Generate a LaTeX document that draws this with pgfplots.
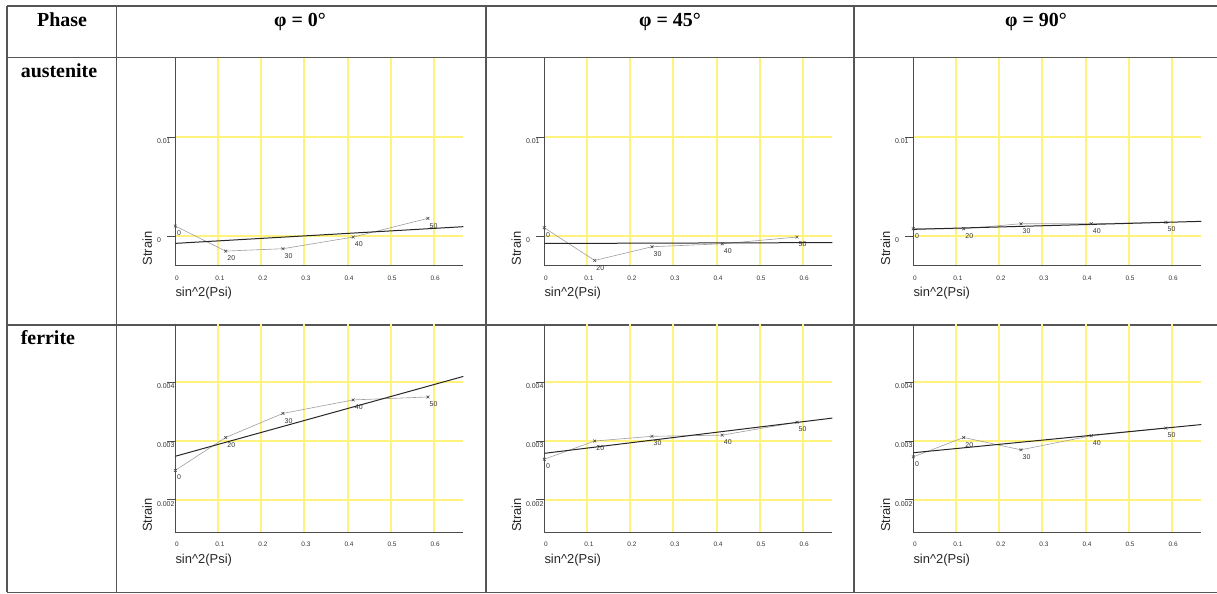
\documentclass[border=0pt]{standalone}
\usepackage{fontspec}
\setmainfont{Liberation Serif}
\setsansfont{Liberation Sans}
\usepackage{pgfplots}
\pgfplotsset{compat=1.18}
\definecolor{gridyellow}{RGB}{255,242,125}
\definecolor{tableline}{RGB}{85,85,85}

\pgfplotsset{
  panel/.style={
    scale only axis, width=288bp, anchor=south west,
    xmin=0, xmax=0.669,
    scaled ticks=false,
    axis x line=bottom, axis y line=left,
    axis line style={-, draw=black!70, line width=0.9bp},
    xtick={0.1,0.2,0.3,0.4,0.5,0.6},
    xticklabels={0.1,0.2,0.3,0.4,0.5,0.6},
    extra x ticks={0}, extra x tick labels={0},
    extra x tick style={grid=none, xtick style={draw=none}},
    grid=major, major grid style={draw=gridyellow, line width=2bp},
    tick align=outside, major tick length=8bp,
    xtick style={draw=none},
    ytick style={draw=black!70, line width=0.8bp},
    xticklabel style={font=\sffamily\fontsize{6.5}{6.5}\selectfont, text=black!80, anchor=north, inner sep=0pt, yshift=-2bp, xshift=1.5bp},
    yticklabel style={font=\sffamily\fontsize{7}{7}\selectfont, text=black!80, anchor=north west, inner sep=0pt, xshift=-10.5bp, yshift=-1.5bp},
    xlabel={sin\textasciicircum 2(Psi)},
    ylabel={Strain},
    label style={font=\sffamily\fontsize{13}{13}\selectfont, text=black!85},
    xlabel style={at={(axis description cs:0,-0.134)}, anchor=west, inner sep=0pt},
    ylabel style={at={(axis description cs:-0.097,0)}, anchor=west, inner sep=0pt},
  },
  austrow/.style={panel, ymin=-0.003, ymax=0.018, height=207.4bp,
    ytick={0,0.01}, yticklabels={0,0.01}},
  ferrow/.style={panel, ymin=0.00145, ymax=0.005, height=208.4bp,
    ytick={0.002,0.003,0.004}, yticklabels={0.002,0.003,0.004}},
  dataline/.style={color=black!38, line width=0.6bp, mark=x, mark size=2bp,
    mark options={draw=black!75, line width=0.5bp, solid},
    nodes near coords, point meta=explicit symbolic,
    every node near coord/.append style={font=\sffamily\fontsize{7}{7}\selectfont, text=black!80, anchor=north west, inner sep=0pt, xshift=1.5bp, yshift=-4.5bp}},
  regline/.style={draw=black!85, line width=1bp, no marks},
}

\begin{document}
\begin{tikzpicture}
\useasboundingbox (0,0) rectangle (1217bp,594bp);

% table rules
\begin{scope}[draw=tableline, line width=1.2bp]
\draw (7bp,588bp) -- (1217bp,588bp);
\draw (7bp,536.7bp) -- (1217bp,536.7bp);
\draw (7bp,269bp) -- (1217bp,269bp);
\draw (7bp,1.7bp) -- (1217bp,1.7bp);
\draw (7bp,588bp) -- (7bp,1.7bp);
\draw (116.7bp,588bp) -- (116.7bp,1.7bp);
\draw (486bp,588bp) -- (486bp,1.7bp);
\draw (854bp,588bp) -- (854bp,1.7bp);
\end{scope}

% headers
\node[font=\bfseries\fontsize{20}{20}\selectfont, anchor=base] at (62bp,567bp) {Phase};
\node[font=\bfseries\fontsize{20}{20}\selectfont, anchor=base] at (300bp,567bp) {φ = 0°};
\node[font=\bfseries\fontsize{20}{20}\selectfont, anchor=base] at (670bp,567bp) {φ = 45°};
\node[font=\bfseries\fontsize{20}{20}\selectfont, anchor=base] at (1036bp,567bp) {φ = 90°};
\node[font=\bfseries\fontsize{20}{20}\selectfont, anchor=base west] at (17.3bp,516bp) {austenite};
\node[font=\bfseries\fontsize{20}{20}\selectfont, anchor=base west] at (17.3bp,249bp) {ferrite};

% austenite, phi = 0
\begin{axis}[austrow, at={(175.3bp,328.3bp)}]
\addplot[dataline] table[meta=l] {
x y l
0 0.00101 0
0.11698 -0.00152 20
0.25 -0.00128 30
0.41318 -0.00010 40
0.58682 0.00179 50
};
\addplot[regline] coordinates {(0,-0.00074) (0.669,0.00095)};
\end{axis}

% austenite, phi = 45
\begin{axis}[austrow, at={(544.3bp,328.3bp)}]
\addplot[dataline] table[meta=l] {
x y l
0 0.00084 0
0.11698 -0.00247 20
0.25 -0.00108 30
0.41318 -0.00078 40
0.58682 -0.00010 50
};
\addplot[regline] coordinates {(0,-0.00075) (0.669,-0.00066)};
\end{axis}

% austenite, phi = 90
\begin{axis}[austrow, at={(913.3bp,328.3bp)}]
\addplot[dataline] table[meta=l] {
x y l
0 0.00074 0
0.11698 0.00074 20
0.25 0.00125 30
0.41318 0.00125 40
0.58682 0.00139 50
};
\addplot[regline] coordinates {(0,0.00068) (0.669,0.00149)};
\end{axis}

% ferrite, phi = 0
\begin{axis}[ferrow, at={(175.3bp,62bp)}]
\addplot[dataline] table[meta=l] {
x y l
0 0.00250 0
0.11698 0.00306 20
0.25 0.00347 30
0.41318 0.00370 40
0.58682 0.00375 50
};
\addplot[regline] coordinates {(0,0.00274) (0.669,0.00410)};
\end{axis}

% ferrite, phi = 45
\begin{axis}[ferrow, at={(544.3bp,62bp)}]
\addplot[dataline] table[meta=l] {
x y l
0 0.00269 0
0.11698 0.00300 20
0.25 0.00308 30
0.41318 0.00310 40
0.58682 0.00332 50
};
\addplot[regline] coordinates {(0,0.00279) (0.669,0.00339)};
\end{axis}

% ferrite, phi = 90
\begin{axis}[ferrow, at={(913.3bp,62bp)}]
\addplot[dataline] table[meta=l] {
x y l
0 0.00273 0
0.11698 0.00306 20
0.25 0.00285 30
0.41318 0.00309 40
0.58682 0.00322 50
};
\addplot[regline] coordinates {(0,0.00280) (0.669,0.00328)};
\end{axis}
\end{tikzpicture}
\end{document}
